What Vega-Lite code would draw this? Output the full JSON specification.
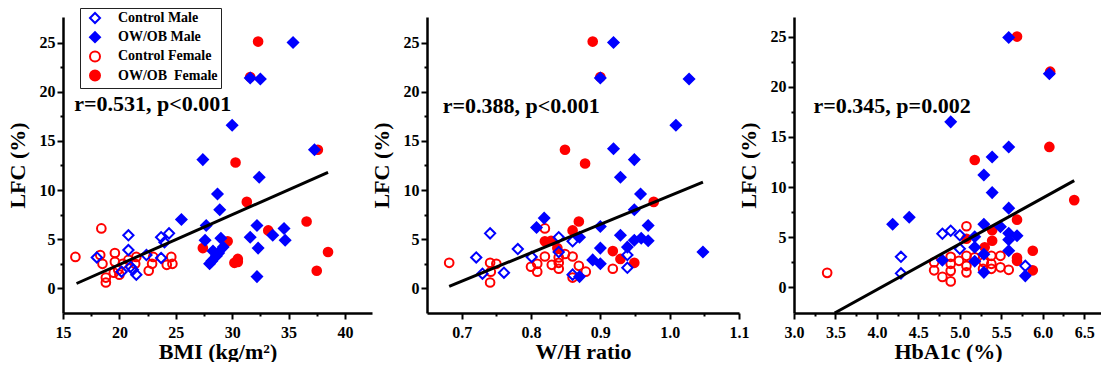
{
  "$schema": "https://vega.github.io/schema/vega-lite/v6.json",
  "padding": {"left": 6, "top": 7, "right": 0, "bottom": 0},
  "spacing": 55,
  "bounds": "flush",
  "config": {
    "view": {"stroke": null},
    "font": "Liberation Serif",
    "axis": {
      "domainColor": "black", "domainWidth": 2.5, "tickColor": "black", "tickWidth": 2,
      "labelFont": "Liberation Serif", "labelFontWeight": "bold", "labelFontSize": 16, "labelColor": "black",
      "titleFont": "Liberation Serif", "titleFontWeight": "bold", "titleFontSize": 22, "titleColor": "black",
      "grid": false, "labelOverlap": false, "labelFlush": false
    },
    "axisY": {"labelPadding": 2, "titlePadding": 10},
    "axisX": {"labelPadding": 5, "titlePadding": 1},
    "legend": {
      "orient": "none", "legendX": 17, "legendY": -9, "fillColor": "white", "strokeColor": "#222",
      "padding": 3, "rowPadding": 1.2, "symbolOffset": 5, "labelOffset": 16, "labelFont": "Liberation Serif", "symbolSize": 100,
      "labelFontWeight": "bold", "labelFontSize": 14, "labelColor": "black", "symbolStrokeWidth": 2, "symbolOpacity": 1
    }
  },
  "resolve": {"scale": {"x": "independent", "y": "independent", "shape": "shared", "stroke": "shared", "fill": "shared"}},
  "datasets": {
    "bmi": [
      {"BMI": 16.1, "LFC": 3.2, "group": "Control Female"},
      {"BMI": 18.4, "LFC": 6.1, "group": "Control Female"},
      {"BMI": 18.3, "LFC": 3.4, "group": "Control Female"},
      {"BMI": 18.5, "LFC": 2.5, "group": "Control Female"},
      {"BMI": 18.8, "LFC": 1.1, "group": "Control Female"},
      {"BMI": 18.8, "LFC": 0.6, "group": "Control Female"},
      {"BMI": 19.6, "LFC": 3.6, "group": "Control Female"},
      {"BMI": 19.6, "LFC": 2.7, "group": "Control Female"},
      {"BMI": 19.5, "LFC": 1.6, "group": "Control Female"},
      {"BMI": 20.0, "LFC": 1.4, "group": "Control Female"},
      {"BMI": 20.3, "LFC": 2.5, "group": "Control Female"},
      {"BMI": 21.4, "LFC": 2.5, "group": "Control Female"},
      {"BMI": 21.5, "LFC": 3.2, "group": "Control Female"},
      {"BMI": 22.6, "LFC": 1.8, "group": "Control Female"},
      {"BMI": 22.9, "LFC": 2.5, "group": "Control Female"},
      {"BMI": 23.0, "LFC": 3.2, "group": "Control Female"},
      {"BMI": 24.2, "LFC": 2.4, "group": "Control Female"},
      {"BMI": 24.6, "LFC": 3.2, "group": "Control Female"},
      {"BMI": 24.7, "LFC": 2.5, "group": "Control Female"},
      {"BMI": 20.8, "LFC": 2.9, "group": "Control Female"},
      {"BMI": 19.9, "LFC": 1.9, "group": "Control Female"},
      {"BMI": 18.0, "LFC": 3.15, "group": "Control Male"},
      {"BMI": 20.8, "LFC": 5.4, "group": "Control Male"},
      {"BMI": 20.8, "LFC": 3.9, "group": "Control Male"},
      {"BMI": 20.2, "LFC": 1.7, "group": "Control Male"},
      {"BMI": 21.0, "LFC": 2.2, "group": "Control Male"},
      {"BMI": 21.5, "LFC": 1.4, "group": "Control Male"},
      {"BMI": 22.4, "LFC": 3.4, "group": "Control Male"},
      {"BMI": 23.7, "LFC": 5.2, "group": "Control Male"},
      {"BMI": 24.4, "LFC": 5.6, "group": "Control Male"},
      {"BMI": 23.7, "LFC": 3.1, "group": "Control Male"},
      {"BMI": 24.0, "LFC": 4.7, "group": "Control Male"},
      {"BMI": 21.2, "LFC": 1.9, "group": "Control Male"},
      {"BMI": 32.3, "LFC": 25.1, "group": "OW/OB\u00a0 Female"},
      {"BMI": 31.6, "LFC": 21.5, "group": "OW/OB\u00a0 Female"},
      {"BMI": 37.6, "LFC": 14.1, "group": "OW/OB\u00a0 Female"},
      {"BMI": 30.3, "LFC": 12.8, "group": "OW/OB\u00a0 Female"},
      {"BMI": 31.3, "LFC": 8.8, "group": "OW/OB\u00a0 Female"},
      {"BMI": 36.6, "LFC": 6.8, "group": "OW/OB\u00a0 Female"},
      {"BMI": 33.2, "LFC": 5.9, "group": "OW/OB\u00a0 Female"},
      {"BMI": 29.6, "LFC": 4.8, "group": "OW/OB\u00a0 Female"},
      {"BMI": 27.4, "LFC": 4.1, "group": "OW/OB\u00a0 Female"},
      {"BMI": 30.2, "LFC": 2.6, "group": "OW/OB\u00a0 Female"},
      {"BMI": 30.5, "LFC": 2.7, "group": "OW/OB\u00a0 Female"},
      {"BMI": 30.5, "LFC": 3.0, "group": "OW/OB\u00a0 Female"},
      {"BMI": 38.5, "LFC": 3.7, "group": "OW/OB\u00a0 Female"},
      {"BMI": 37.5, "LFC": 1.8, "group": "OW/OB\u00a0 Female"},
      {"BMI": 35.4, "LFC": 25.0, "group": "OW/OB Male"},
      {"BMI": 31.6, "LFC": 21.4, "group": "OW/OB Male"},
      {"BMI": 32.5, "LFC": 21.3, "group": "OW/OB Male"},
      {"BMI": 30.0, "LFC": 16.6, "group": "OW/OB Male"},
      {"BMI": 37.3, "LFC": 14.1, "group": "OW/OB Male"},
      {"BMI": 27.4, "LFC": 13.1, "group": "OW/OB Male"},
      {"BMI": 32.4, "LFC": 11.3, "group": "OW/OB Male"},
      {"BMI": 28.7, "LFC": 9.6, "group": "OW/OB Male"},
      {"BMI": 28.9, "LFC": 8.0, "group": "OW/OB Male"},
      {"BMI": 25.5, "LFC": 7.0, "group": "OW/OB Male"},
      {"BMI": 27.7, "LFC": 6.4, "group": "OW/OB Male"},
      {"BMI": 32.2, "LFC": 6.4, "group": "OW/OB Male"},
      {"BMI": 34.6, "LFC": 6.1, "group": "OW/OB Male"},
      {"BMI": 27.6, "LFC": 4.9, "group": "OW/OB Male"},
      {"BMI": 29.0, "LFC": 5.1, "group": "OW/OB Male"},
      {"BMI": 31.6, "LFC": 5.2, "group": "OW/OB Male"},
      {"BMI": 33.6, "LFC": 5.4, "group": "OW/OB Male"},
      {"BMI": 34.7, "LFC": 4.9, "group": "OW/OB Male"},
      {"BMI": 29.2, "LFC": 4.2, "group": "OW/OB Male"},
      {"BMI": 32.3, "LFC": 4.1, "group": "OW/OB Male"},
      {"BMI": 28.3, "LFC": 3.8, "group": "OW/OB Male"},
      {"BMI": 28.2, "LFC": 2.8, "group": "OW/OB Male"},
      {"BMI": 28.0, "LFC": 2.5, "group": "OW/OB Male"},
      {"BMI": 28.6, "LFC": 3.3, "group": "OW/OB Male"},
      {"BMI": 28.8, "LFC": 3.6, "group": "OW/OB Male"},
      {"BMI": 32.2, "LFC": 1.2, "group": "OW/OB Male"}
    ],
    "bmi_fit": [{"BMI": 16.2, "LFC": 0.5}, {"BMI": 38.5, "LFC": 11.8}],
    "wh": [
      {"WH": 0.682, "LFC": 2.6, "group": "Control Female"},
      {"WH": 0.741, "LFC": 2.6, "group": "Control Female"},
      {"WH": 0.75, "LFC": 2.5, "group": "Control Female"},
      {"WH": 0.741, "LFC": 0.6, "group": "Control Female"},
      {"WH": 0.742, "LFC": 1.7, "group": "Control Female"},
      {"WH": 0.80, "LFC": 2.2, "group": "Control Female"},
      {"WH": 0.809, "LFC": 1.7, "group": "Control Female"},
      {"WH": 0.809, "LFC": 2.5, "group": "Control Female"},
      {"WH": 0.82, "LFC": 6.1, "group": "Control Female"},
      {"WH": 0.82, "LFC": 3.25, "group": "Control Female"},
      {"WH": 0.83, "LFC": 2.4, "group": "Control Female"},
      {"WH": 0.84, "LFC": 3.15, "group": "Control Female"},
      {"WH": 0.84, "LFC": 2.0, "group": "Control Female"},
      {"WH": 0.84, "LFC": 2.6, "group": "Control Female"},
      {"WH": 0.849, "LFC": 3.5, "group": "Control Female"},
      {"WH": 0.86, "LFC": 3.25, "group": "Control Female"},
      {"WH": 0.86, "LFC": 1.1, "group": "Control Female"},
      {"WH": 0.869, "LFC": 2.3, "group": "Control Female"},
      {"WH": 0.879, "LFC": 1.7, "group": "Control Female"},
      {"WH": 0.918, "LFC": 2.0, "group": "Control Female"},
      {"WH": 0.741, "LFC": 5.6, "group": "Control Male"},
      {"WH": 0.721, "LFC": 3.15, "group": "Control Male"},
      {"WH": 0.73, "LFC": 1.5, "group": "Control Male"},
      {"WH": 0.761, "LFC": 1.6, "group": "Control Male"},
      {"WH": 0.781, "LFC": 4.0, "group": "Control Male"},
      {"WH": 0.801, "LFC": 3.2, "group": "Control Male"},
      {"WH": 0.84, "LFC": 5.2, "group": "Control Male"},
      {"WH": 0.84, "LFC": 3.7, "group": "Control Male"},
      {"WH": 0.86, "LFC": 4.8, "group": "Control Male"},
      {"WH": 0.86, "LFC": 1.4, "group": "Control Male"},
      {"WH": 0.939, "LFC": 3.4, "group": "Control Male"},
      {"WH": 0.939, "LFC": 2.1, "group": "Control Male"},
      {"WH": 0.889, "LFC": 25.1, "group": "OW/OB\u00a0 Female"},
      {"WH": 0.90, "LFC": 21.5, "group": "OW/OB\u00a0 Female"},
      {"WH": 0.849, "LFC": 14.1, "group": "OW/OB\u00a0 Female"},
      {"WH": 0.878, "LFC": 12.7, "group": "OW/OB\u00a0 Female"},
      {"WH": 0.977, "LFC": 8.8, "group": "OW/OB\u00a0 Female"},
      {"WH": 0.869, "LFC": 6.8, "group": "OW/OB\u00a0 Female"},
      {"WH": 0.86, "LFC": 5.9, "group": "OW/OB\u00a0 Female"},
      {"WH": 0.82, "LFC": 4.8, "group": "OW/OB\u00a0 Female"},
      {"WH": 0.829, "LFC": 4.85, "group": "OW/OB\u00a0 Female"},
      {"WH": 0.838, "LFC": 4.1, "group": "OW/OB\u00a0 Female"},
      {"WH": 0.918, "LFC": 3.8, "group": "OW/OB\u00a0 Female"},
      {"WH": 0.929, "LFC": 3.0, "group": "OW/OB\u00a0 Female"},
      {"WH": 0.949, "LFC": 2.6, "group": "OW/OB\u00a0 Female"},
      {"WH": 0.919, "LFC": 25.0, "group": "OW/OB Male"},
      {"WH": 0.90, "LFC": 21.4, "group": "OW/OB Male"},
      {"WH": 1.028, "LFC": 21.3, "group": "OW/OB Male"},
      {"WH": 1.009, "LFC": 16.6, "group": "OW/OB Male"},
      {"WH": 0.919, "LFC": 14.2, "group": "OW/OB Male"},
      {"WH": 0.949, "LFC": 13.1, "group": "OW/OB Male"},
      {"WH": 0.929, "LFC": 11.3, "group": "OW/OB Male"},
      {"WH": 0.958, "LFC": 9.6, "group": "OW/OB Male"},
      {"WH": 0.949, "LFC": 8.0, "group": "OW/OB Male"},
      {"WH": 0.819, "LFC": 7.15, "group": "OW/OB Male"},
      {"WH": 0.808, "LFC": 6.2, "group": "OW/OB Male"},
      {"WH": 0.90, "LFC": 6.3, "group": "OW/OB Male"},
      {"WH": 0.969, "LFC": 6.4, "group": "OW/OB Male"},
      {"WH": 0.929, "LFC": 5.4, "group": "OW/OB Male"},
      {"WH": 0.949, "LFC": 4.9, "group": "OW/OB Male"},
      {"WH": 0.959, "LFC": 5.1, "group": "OW/OB Male"},
      {"WH": 0.969, "LFC": 4.85, "group": "OW/OB Male"},
      {"WH": 0.87, "LFC": 5.2, "group": "OW/OB Male"},
      {"WH": 0.939, "LFC": 4.2, "group": "OW/OB Male"},
      {"WH": 0.90, "LFC": 4.1, "group": "OW/OB Male"},
      {"WH": 1.048, "LFC": 3.7, "group": "OW/OB Male"},
      {"WH": 0.889, "LFC": 2.9, "group": "OW/OB Male"},
      {"WH": 0.90, "LFC": 2.5, "group": "OW/OB Male"},
      {"WH": 0.87, "LFC": 1.2, "group": "OW/OB Male"}
    ],
    "wh_fit": [{"WH": 0.682, "LFC": 0.2}, {"WH": 1.048, "LFC": 10.8}],
    "hba1c": [
      {"HbA1c": 3.4, "LFC": 1.45, "group": "Control Female"},
      {"HbA1c": 5.08, "LFC": 6.1, "group": "Control Female"},
      {"HbA1c": 4.69, "LFC": 2.5, "group": "Control Female"},
      {"HbA1c": 4.69, "LFC": 1.7, "group": "Control Female"},
      {"HbA1c": 4.79, "LFC": 1.05, "group": "Control Female"},
      {"HbA1c": 4.89, "LFC": 0.6, "group": "Control Female"},
      {"HbA1c": 4.89, "LFC": 3.05, "group": "Control Female"},
      {"HbA1c": 4.89, "LFC": 2.35, "group": "Control Female"},
      {"HbA1c": 4.89, "LFC": 1.65, "group": "Control Female"},
      {"HbA1c": 4.99, "LFC": 2.65, "group": "Control Female"},
      {"HbA1c": 5.08, "LFC": 3.15, "group": "Control Female"},
      {"HbA1c": 5.08, "LFC": 2.15, "group": "Control Female"},
      {"HbA1c": 5.08, "LFC": 1.5, "group": "Control Female"},
      {"HbA1c": 5.18, "LFC": 3.0, "group": "Control Female"},
      {"HbA1c": 5.28, "LFC": 1.85, "group": "Control Female"},
      {"HbA1c": 5.29, "LFC": 2.5, "group": "Control Female"},
      {"HbA1c": 5.38, "LFC": 3.15, "group": "Control Female"},
      {"HbA1c": 5.38, "LFC": 2.35, "group": "Control Female"},
      {"HbA1c": 5.38, "LFC": 1.85, "group": "Control Female"},
      {"HbA1c": 5.49, "LFC": 3.15, "group": "Control Female"},
      {"HbA1c": 5.49, "LFC": 2.0, "group": "Control Female"},
      {"HbA1c": 5.59, "LFC": 1.75, "group": "Control Female"},
      {"HbA1c": 4.29, "LFC": 3.05, "group": "Control Male"},
      {"HbA1c": 4.29, "LFC": 1.4, "group": "Control Male"},
      {"HbA1c": 4.79, "LFC": 5.35, "group": "Control Male"},
      {"HbA1c": 4.89, "LFC": 5.65, "group": "Control Male"},
      {"HbA1c": 5.0, "LFC": 5.2, "group": "Control Male"},
      {"HbA1c": 5.0, "LFC": 3.85, "group": "Control Male"},
      {"HbA1c": 5.79, "LFC": 2.15, "group": "Control Male"},
      {"HbA1c": 5.69, "LFC": 25.0, "group": "OW/OB\u00a0 Female"},
      {"HbA1c": 6.09, "LFC": 21.5, "group": "OW/OB\u00a0 Female"},
      {"HbA1c": 6.08, "LFC": 14.0, "group": "OW/OB\u00a0 Female"},
      {"HbA1c": 5.18, "LFC": 12.7, "group": "OW/OB\u00a0 Female"},
      {"HbA1c": 6.38, "LFC": 8.7, "group": "OW/OB\u00a0 Female"},
      {"HbA1c": 5.69, "LFC": 6.75, "group": "OW/OB\u00a0 Female"},
      {"HbA1c": 5.39, "LFC": 5.7, "group": "OW/OB\u00a0 Female"},
      {"HbA1c": 5.39, "LFC": 4.65, "group": "OW/OB\u00a0 Female"},
      {"HbA1c": 5.08, "LFC": 4.85, "group": "OW/OB\u00a0 Female"},
      {"HbA1c": 5.3, "LFC": 4.0, "group": "OW/OB\u00a0 Female"},
      {"HbA1c": 5.69, "LFC": 2.95, "group": "OW/OB\u00a0 Female"},
      {"HbA1c": 5.69, "LFC": 2.65, "group": "OW/OB\u00a0 Female"},
      {"HbA1c": 5.88, "LFC": 3.65, "group": "OW/OB\u00a0 Female"},
      {"HbA1c": 5.88, "LFC": 1.7, "group": "OW/OB\u00a0 Female"},
      {"HbA1c": 5.59, "LFC": 24.9, "group": "OW/OB Male"},
      {"HbA1c": 6.08, "LFC": 21.3, "group": "OW/OB Male"},
      {"HbA1c": 4.89, "LFC": 16.5, "group": "OW/OB Male"},
      {"HbA1c": 5.59, "LFC": 14.0, "group": "OW/OB Male"},
      {"HbA1c": 5.39, "LFC": 13.0, "group": "OW/OB Male"},
      {"HbA1c": 5.29, "LFC": 11.2, "group": "OW/OB Male"},
      {"HbA1c": 5.39, "LFC": 9.45, "group": "OW/OB Male"},
      {"HbA1c": 5.59, "LFC": 7.9, "group": "OW/OB Male"},
      {"HbA1c": 4.39, "LFC": 7.0, "group": "OW/OB Male"},
      {"HbA1c": 4.19, "LFC": 6.3, "group": "OW/OB Male"},
      {"HbA1c": 5.29, "LFC": 6.3, "group": "OW/OB Male"},
      {"HbA1c": 5.49, "LFC": 6.05, "group": "OW/OB Male"},
      {"HbA1c": 5.18, "LFC": 5.05, "group": "OW/OB Male"},
      {"HbA1c": 5.59, "LFC": 5.4, "group": "OW/OB Male"},
      {"HbA1c": 5.69, "LFC": 5.15, "group": "OW/OB Male"},
      {"HbA1c": 5.59, "LFC": 4.75, "group": "OW/OB Male"},
      {"HbA1c": 5.18, "LFC": 4.0, "group": "OW/OB Male"},
      {"HbA1c": 5.29, "LFC": 3.3, "group": "OW/OB Male"},
      {"HbA1c": 5.59, "LFC": 3.65, "group": "OW/OB Male"},
      {"HbA1c": 4.79, "LFC": 2.7, "group": "OW/OB Male"},
      {"HbA1c": 5.18, "LFC": 2.6, "group": "OW/OB Male"},
      {"HbA1c": 5.29, "LFC": 1.5, "group": "OW/OB Male"},
      {"HbA1c": 5.79, "LFC": 1.15, "group": "OW/OB Male"}
    ],
    "hba1c_fit": [{"HbA1c": 3.49, "LFC": -2.55}, {"HbA1c": 6.38, "LFC": 10.64}]
  },
  "hconcat": [
    {
      "width": 309, "height": 296,
      "encoding": {
        "x": {"field": "BMI", "type": "quantitative", "scale": {"domain": [15, 42.4], "nice": false, "zero": false},
          "axis": {"title": "BMI (kg/m²)", "values": [15, 17.5, 20, 22.5, 25, 27.5, 30, 32.5, 35, 37.5, 40], "format": "d",
            "labelExpr": "datum.value % 5 === 0 ? datum.label : ''",
            "tickSize": {"condition": {"test": "datum.value % 5 !== 0", "value": 3}, "value": 6}}},
        "y": {"field": "LFC", "type": "quantitative", "scale": {"domain": [-2.5, 27.6], "nice": false, "zero": false},
          "axis": {"title": "LFC (%)", "values": [0, 2.5, 5, 7.5, 10, 12.5, 15, 17.5, 20, 22.5, 25], "format": "d",
            "labelExpr": "datum.value % 5 === 0 ? datum.label : ''",
            "tickSize": {"condition": {"test": "datum.value % 5 !== 0", "value": 3}, "value": 6}}}
      },
      "layer": [
        {
          "data": {"name": "bmi"},
          "transform": [{"filter": "indexof(datum.group, 'Female') >= 0"}],
          "mark": {"type": "point", "opacity": 1, "strokeWidth": 2, "size": 75},
          "encoding": {
            "shape": {"field": "group", "type": "nominal", "scale": {"domain": ["Control Male", "OW/OB Male", "Control Female", "OW/OB\u00a0 Female"], "range": ["diamond", "diamond", "circle", "circle"]}, "legend": {"title": null}},
            "stroke": {"field": "group", "type": "nominal", "scale": {"domain": ["Control Male", "OW/OB Male", "Control Female", "OW/OB\u00a0 Female"], "range": ["#0000ff", "#0000ff", "#ff0000", "#ff0000"]}, "legend": {"title": null}},
            "fill": {"field": "group", "type": "nominal", "scale": {"domain": ["Control Male", "OW/OB Male", "Control Female", "OW/OB\u00a0 Female"], "range": ["transparent", "#0000ff", "transparent", "#ff0000"]}, "legend": {"title": null}}
          }
        },
        {
          "data": {"name": "bmi"},
          "transform": [{"filter": "indexof(datum.group, 'Female') < 0"}],
          "mark": {"type": "point", "opacity": 1, "strokeWidth": 2, "size": 105},
          "encoding": {
            "shape": {"field": "group", "type": "nominal"},
            "stroke": {"field": "group", "type": "nominal"},
            "fill": {"field": "group", "type": "nominal"}
          }
        },
        {
          "data": {"name": "bmi_fit"},
          "mark": {"type": "line", "color": "black", "strokeWidth": 3},
          "encoding": {}
        },
        {
          "data": {"values": [{"BMI": 16.0, "LFC": 18.8, "label": "r=0.531, p<0.001"}]},
          "mark": {"type": "text", "align": "left", "baseline": "middle", "fontSize": 22, "fontWeight": "bold", "font": "Liberation Serif", "color": "black"},
          "encoding": {"text": {"field": "label"}}
        }
      ]
    },
    {
      "width": 312, "height": 296,
      "encoding": {
        "x": {"field": "WH", "type": "quantitative", "scale": {"domain": [0.65, 1.1], "nice": false, "zero": false},
          "axis": {"title": "W/H ratio", "values": [0.7, 0.75, 0.8, 0.85, 0.9, 0.95, 1.0, 1.05, 1.1], "format": ".1f",
            "labelExpr": "abs(datum.value*10 - round(datum.value*10)) < 0.01 ? datum.label : ''",
            "tickSize": {"condition": {"test": "abs(datum.value*10 - round(datum.value*10)) > 0.01", "value": 3}, "value": 6}}},
        "y": {"field": "LFC", "type": "quantitative", "scale": {"domain": [-2.5, 27.6], "nice": false, "zero": false},
          "axis": {"title": "LFC (%)", "values": [0, 2.5, 5, 7.5, 10, 12.5, 15, 17.5, 20, 22.5, 25], "format": "d",
            "labelExpr": "datum.value % 5 === 0 ? datum.label : ''",
            "tickSize": {"condition": {"test": "datum.value % 5 !== 0", "value": 3}, "value": 6}}}
      },
      "layer": [
        {
          "data": {"name": "wh"},
          "transform": [{"filter": "indexof(datum.group, 'Female') >= 0"}],
          "mark": {"type": "point", "opacity": 1, "strokeWidth": 2, "size": 75},
          "encoding": {
            "shape": {"field": "group", "type": "nominal"},
            "stroke": {"field": "group", "type": "nominal"},
            "fill": {"field": "group", "type": "nominal"}
          }
        },
        {
          "data": {"name": "wh"},
          "transform": [{"filter": "indexof(datum.group, 'Female') < 0"}],
          "mark": {"type": "point", "opacity": 1, "strokeWidth": 2, "size": 105},
          "encoding": {
            "shape": {"field": "group", "type": "nominal"},
            "stroke": {"field": "group", "type": "nominal"},
            "fill": {"field": "group", "type": "nominal"}
          }
        },
        {
          "data": {"name": "wh_fit"},
          "mark": {"type": "line", "color": "black", "strokeWidth": 3},
          "encoding": {}
        },
        {
          "data": {"values": [{"WH": 0.6726, "LFC": 18.5, "label": "r=0.388, p<0.001"}]},
          "mark": {"type": "text", "align": "left", "baseline": "middle", "fontSize": 22, "fontWeight": "bold", "font": "Liberation Serif", "color": "black"},
          "encoding": {"text": {"field": "label"}}
        }
      ]
    },
    {
      "width": 308, "height": 296,
      "encoding": {
        "x": {"field": "HbA1c", "type": "quantitative", "scale": {"domain": [3.0, 6.715], "nice": false, "zero": false},
          "axis": {"title": "HbA1c (%)", "values": [3.0, 3.25, 3.5, 3.75, 4.0, 4.25, 4.5, 4.75, 5.0, 5.25, 5.5, 5.75, 6.0, 6.25, 6.5], "format": ".1f",
            "labelExpr": "abs(datum.value*2 - round(datum.value*2)) < 0.01 ? datum.label : ''",
            "tickSize": {"condition": {"test": "abs(datum.value*2 - round(datum.value*2)) > 0.01", "value": 3}, "value": 6}}},
        "y": {"field": "LFC", "type": "quantitative", "scale": {"domain": [-2.55, 26.95], "nice": false, "zero": false},
          "axis": {"title": "LFC (%)", "values": [0, 2.5, 5, 7.5, 10, 12.5, 15, 17.5, 20, 22.5, 25], "format": "d",
            "labelExpr": "datum.value % 5 === 0 ? datum.label : ''",
            "tickSize": {"condition": {"test": "datum.value % 5 !== 0", "value": 3}, "value": 6}}}
      },
      "layer": [
        {
          "data": {"name": "hba1c"},
          "transform": [{"filter": "indexof(datum.group, 'Female') >= 0"}],
          "mark": {"type": "point", "opacity": 1, "strokeWidth": 2, "size": 75},
          "encoding": {
            "shape": {"field": "group", "type": "nominal"},
            "stroke": {"field": "group", "type": "nominal"},
            "fill": {"field": "group", "type": "nominal"}
          }
        },
        {
          "data": {"name": "hba1c"},
          "transform": [{"filter": "indexof(datum.group, 'Female') < 0"}],
          "mark": {"type": "point", "opacity": 1, "strokeWidth": 2, "size": 105},
          "encoding": {
            "shape": {"field": "group", "type": "nominal"},
            "stroke": {"field": "group", "type": "nominal"},
            "fill": {"field": "group", "type": "nominal"}
          }
        },
        {
          "data": {"name": "hba1c_fit"},
          "mark": {"type": "line", "color": "black", "strokeWidth": 3, "clip": true},
          "encoding": {}
        },
        {
          "data": {"values": [{"HbA1c": 3.236, "LFC": 18.1, "label": "r=0.345, p=0.002"}]},
          "mark": {"type": "text", "align": "left", "baseline": "middle", "fontSize": 22, "fontWeight": "bold", "font": "Liberation Serif", "color": "black"},
          "encoding": {"text": {"field": "label"}}
        }
      ]
    }
  ]
}
